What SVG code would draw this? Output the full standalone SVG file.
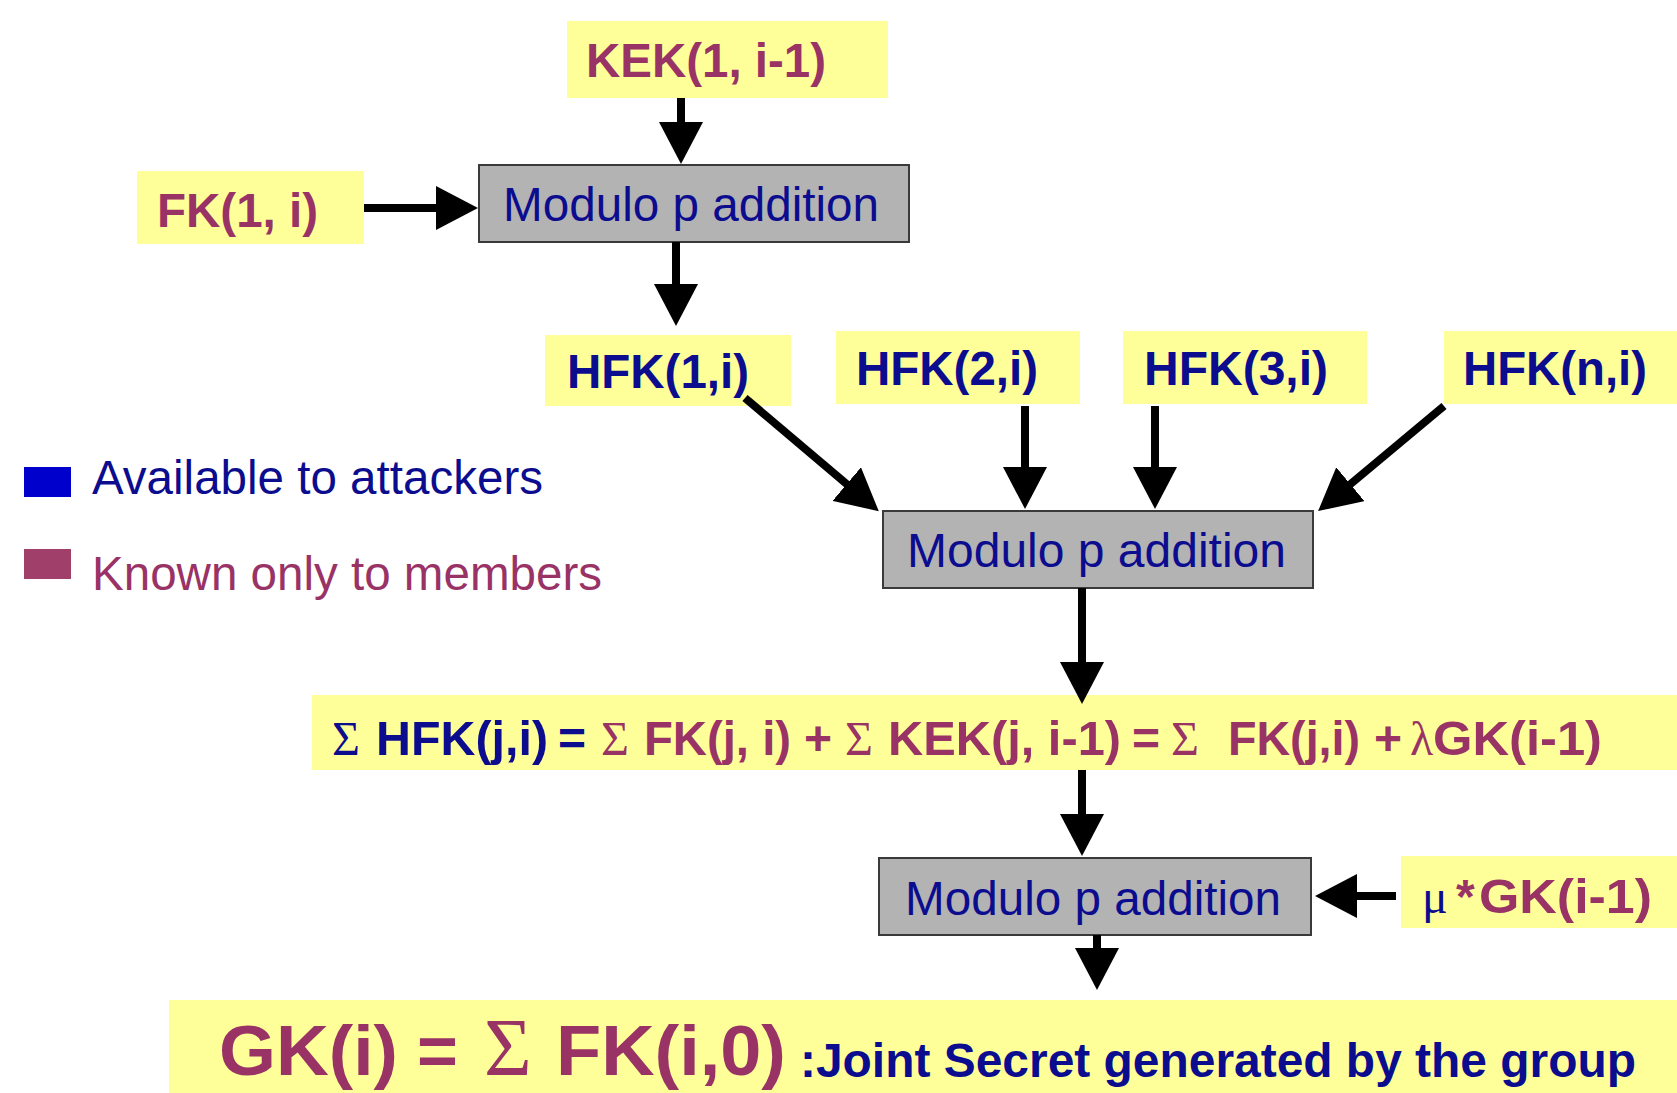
<svg xmlns="http://www.w3.org/2000/svg" width="1677" height="1093" viewBox="0 0 1677 1093">
<style>
.y{fill:#ffff99}
.g{fill:#b3b3b3;stroke:#3a3a3a;stroke-width:2}
.b{font-family:"Liberation Sans",Arial,sans-serif;font-weight:bold;font-size:48px}
.r{font-family:"Liberation Sans",Arial,sans-serif;font-size:48px}
.s{font-family:"Liberation Serif","Times New Roman",serif;font-weight:normal}
.m{fill:#993366}
.u{fill:#0c0c8f}
.c line{stroke:#000;stroke-width:8;marker-end:url(#ah)}
</style>
<defs>
<marker id="ah" markerUnits="userSpaceOnUse" markerWidth="42" markerHeight="44" refX="20" refY="22" orient="auto">
<path d="M0,0 L42,22 L0,44 Z" fill="#000"/>
</marker>
</defs>
<rect width="1677" height="1093" fill="#fff"/>

<g id="kek">
<rect class="y" x="567" y="21" width="321" height="77"/>
<text class="b m" x="586" y="77" textLength="240" lengthAdjust="spacingAndGlyphs">KEK(1, i-1)</text>
</g>
<g id="fk">
<rect class="y" x="137" y="171" width="227" height="73"/>
<text class="b m" x="157" y="227" textLength="161" lengthAdjust="spacingAndGlyphs">FK(1, i)</text>
</g>
<g id="mod1">
<rect class="g" x="479" y="165" width="430" height="77"/>
<text class="r u" x="503" y="221" textLength="376" lengthAdjust="spacingAndGlyphs">Modulo p addition</text>
</g>
<g id="hfk1">
<rect class="y" x="545" y="335" width="246" height="71"/>
<text class="b u" x="567" y="388" textLength="182" lengthAdjust="spacingAndGlyphs">HFK(1,i)</text>
</g>
<g id="hfk2">
<rect class="y" x="836" y="331" width="244" height="73"/>
<text class="b u" x="856" y="385" textLength="182" lengthAdjust="spacingAndGlyphs">HFK(2,i)</text>
</g>
<g id="hfk3">
<rect class="y" x="1123" y="331" width="244" height="73"/>
<text class="b u" x="1144" y="385" textLength="184" lengthAdjust="spacingAndGlyphs">HFK(3,i)</text>
</g>
<g id="hfkn">
<rect class="y" x="1444" y="331" width="233" height="73"/>
<text class="b u" x="1463" y="385" textLength="184" lengthAdjust="spacingAndGlyphs">HFK(n,i)</text>
</g>
<g id="legend">
<rect x="24" y="467" width="47" height="30" fill="#0000cc"/>
<text class="r u" x="92" y="494" textLength="451" lengthAdjust="spacingAndGlyphs">Available to attackers</text>
<rect x="24" y="549" width="47" height="30" fill="#a0406a"/>
<text class="r m" x="92" y="590" textLength="510" lengthAdjust="spacingAndGlyphs">Known only to members</text>
</g>
<g id="mod2">
<rect class="g" x="883" y="511" width="430" height="77"/>
<text class="r u" x="907" y="567" textLength="379" lengthAdjust="spacingAndGlyphs">Modulo p addition</text>
</g>
<g id="sum">
<rect class="y" x="312" y="695" width="1365" height="75"/>
<text class="b" y="755"><tspan class="s u" x="332">Σ</tspan><tspan class="u" x="376" textLength="172" lengthAdjust="spacingAndGlyphs">HFK(j,i)</tspan><tspan class="u" x="558">=</tspan><tspan class="s m" x="601">Σ</tspan><tspan class="m" x="644" textLength="147" lengthAdjust="spacingAndGlyphs">FK(j, i)</tspan><tspan class="m" x="804">+</tspan><tspan class="s m" x="845">Σ</tspan><tspan class="m" x="888" textLength="233" lengthAdjust="spacingAndGlyphs">KEK(j, i-1)</tspan><tspan class="m" x="1132">=</tspan><tspan class="s m" x="1171">Σ</tspan><tspan class="m" x="1228" textLength="132" lengthAdjust="spacingAndGlyphs">FK(j,i)</tspan><tspan class="m" x="1374">+</tspan><tspan class="s m" x="1410">λ</tspan><tspan class="m" x="1433" textLength="169" lengthAdjust="spacingAndGlyphs">GK(i-1)</tspan></text>
</g>
<g id="mod3">
<rect class="g" x="879" y="858" width="432" height="77"/>
<text class="r u" x="905" y="915" textLength="376" lengthAdjust="spacingAndGlyphs">Modulo p addition</text>
</g>
<g id="mu">
<rect class="y" x="1401" y="856" width="276" height="72"/>
<text class="b" y="913"><tspan class="s u" x="1422">μ</tspan><tspan class="m" x="1456">*</tspan><tspan class="m" x="1479" textLength="173" lengthAdjust="spacingAndGlyphs">GK(i-1)</tspan></text>
</g>
<g id="gk">
<rect class="y" x="169" y="1000" width="1508" height="93"/>
<text class="b m" y="1075" style="font-size:70px"><tspan x="219" textLength="179" lengthAdjust="spacingAndGlyphs">GK(i)</tspan><tspan x="417">=</tspan><tspan class="s" x="484" style="font-size:82px">Σ</tspan><tspan x="556" textLength="230" lengthAdjust="spacingAndGlyphs">FK(i,0)</tspan></text>
<text class="b u" x="800" y="1077" textLength="836" lengthAdjust="spacingAndGlyphs">:Joint Secret generated by the group</text>
</g>

<g id="connectors" class="c">
<line x1="681" y1="98" x2="681" y2="142"/>
<line x1="364" y1="208" x2="456" y2="208"/>
<line x1="676" y1="242" x2="676" y2="304"/>
<line x1="745" y1="398" x2="862" y2="497"/>
<line x1="1025" y1="406" x2="1025" y2="487"/>
<line x1="1155" y1="406" x2="1155" y2="487"/>
<line x1="1444" y1="406" x2="1335" y2="497"/>
<line x1="1082" y1="588" x2="1082" y2="682"/>
<line x1="1082" y1="770" x2="1082" y2="834"/>
<line x1="1396" y1="896" x2="1337" y2="896"/>
<line x1="1097" y1="935" x2="1097" y2="968"/>
</g>
</svg>
